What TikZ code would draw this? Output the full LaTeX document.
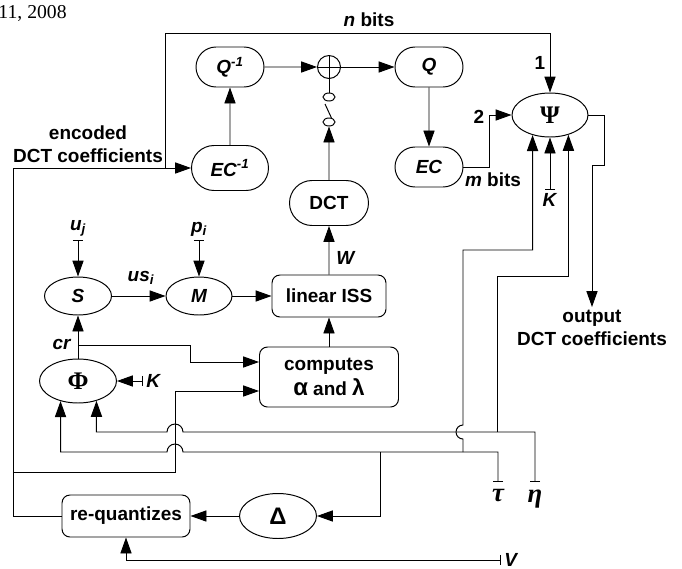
\documentclass[tikz,border=0pt]{standalone}
\usepackage{fontspec}
\setmainfont{Liberation Sans}
\newfontfamily\timesfont{Liberation Serif}
\newfontfamily\grk{Liberation Serif}
\usetikzlibrary{shapes.geometric,shapes.misc,arrows.meta}

\begin{document}
\begin{tikzpicture}[
        oval/.style={
            ellipse,
            draw,
            inner sep=0pt,
            minimum width=1.9cm,
            minimum height=1.1cm,
            font=\fontsize{13.5}{16}\selectfont\bfseries\itshape
        },
        pill/.style={
            rounded rectangle,
            draw,
            inner sep=0pt,
            minimum width=1.7cm,
            minimum height=1cm,
            font=\fontsize{13.5}{16}\selectfont\bfseries\itshape
        },
        block/.style={
            rectangle,
            draw,
            rounded corners=0.2cm,
            align=center,
            inner sep=0pt,
            minimum height=1.05cm,
            font=\fontsize{13.5}{16}\selectfont\bfseries
        },
        txt/.style={
            align=center,
            inner sep=2pt,
            font=\fontsize{13.5}{16}\selectfont\bfseries
        },
        contact/.style={ellipse, draw, inner sep=0pt, minimum width=0.3cm, minimum height=0.2cm},
        arrow/.style={-{Triangle[length=0.4cm,width=0.28cm]}},
        tee/.style={{Bar[width=0.26cm]}-{Triangle[length=0.4cm,width=0.28cm]}},
        line width=0.7pt
    ]

        \useasboundingbox (0,0) rectangle (17.05,-14.225);

        \node[anchor=base west, inner sep=0pt, font=\timesfont\fontsize{14}{16}\selectfont] (date) at (-0.05,-0.45) {11, 2008};

        \node[pill] (qinv) at (5.75,-1.675) {Q\textsuperscript{-1}};
        \node[pill, minimum width=1.925cm, minimum height=1.125cm] (ecinv) at (5.75,-4.2) {EC\textsuperscript{-1}};
        \node[circle, draw, inner sep=0pt, minimum size=0.575cm] (sum) at (8.225,-1.675) {};
        \node[pill] (q) at (10.725,-1.675) {Q};
        \node[pill] (ec) at (10.725,-4.175) {EC};
        \node[oval] (psi) at (13.75,-2.875) {\grk\upshape\fontsize{18}{18}\selectfont Ψ};
        \node[contact] (sw1) at (8.225,-2.425) {};
        \node[contact] (sw2) at (8.225,-3.05) {};
        \node[pill, minimum width=1.975cm, minimum height=1.125cm, font=\fontsize{13.5}{16}\selectfont\bfseries] (dct) at (8.225,-5.075) {DCT};
        \node[block, minimum width=2.85cm] (iss) at (8.225,-7.4) {linear ISS};
        \node[block, minimum width=3.475cm, minimum height=1.5cm] (comp) at (8.225,-9.425) {computes\\[2pt]{\fontsize{17}{17}\selectfont α} and {\fontsize{16}{16}\selectfont λ}};
        \node[oval, minimum width=1.675cm, minimum height=0.95cm] (s) at (1.95,-7.4) {S};
        \node[oval, minimum width=1.65cm, minimum height=0.95cm] (m) at (4.975,-7.4) {M};
        \node[oval, minimum width=1.925cm] (phi) at (1.95,-9.525) {\grk\upshape\fontsize{18}{18}\selectfont Φ};
        \node[oval, minimum width=1.925cm, minimum height=1.125cm] (delta) at (6.95,-12.9) {\upshape\fontsize{17}{17}\selectfont Δ};
        \node[block, minimum width=3.2cm] (req) at (3.15,-12.9) {re-quantizes};

        % labels and outside inputs
        \node[txt] (nbits) at (9.225,-0.5) {\textit{n} bits};
        \node[txt] (in1) at (13.5,-1.575) {1};
        \node[txt] (in2) at (11.975,-2.925) {2};
        \node[txt] (mbits) at (12.325,-4.5) {\textit{m} bits};
        \node[txt] (enc) at (2.2,-3.6) {encoded\\DCT coefficients};
        \node[txt] (w) at (8.65,-6.45) {\textit{W}};
        \node[txt] (usi) at (3.525,-6.95) {\textit{us\textsubscript{i}}};
        \node[txt] (cr) at (1.55,-8.6) {\textit{cr}};
        \node[txt, anchor=south] (uj) at (1.95,-6.0) {\textit{u\textsubscript{j}}};
        \node[txt, anchor=south] (pi) at (4.975,-6.0) {\textit{p\textsubscript{i}}};
        \node[txt, anchor=west] (kphi) at (3.575,-9.525) {\textit{K}};
        \node[txt, anchor=north] (kpsi) at (13.75,-4.75) {\textit{K}};
        \node[txt, anchor=north] (out) at (14.8,-7.675) {output\\DCT coefficients};
        \node[anchor=north, inner sep=5pt, font=\grk\fontsize{19}{19}\selectfont\bfseries\itshape] (tau) at (12.45,-12.05) {τ};
        \node[anchor=north, inner sep=5pt, font=\grk\fontsize{19}{19}\selectfont\bfseries\itshape] (eta) at (13.375,-12.05) {η};
        \node[txt, anchor=west] (v) at (12.525,-14.0) {\textit{V}};

        % junctions
        \coordinate (busl) at (0.325,-4.2);
        \coordinate (busj) at (0.325,-11.8);
        \coordinate (topj) at (4.125,-4.2);
        \coordinate (crj) at (1.95,-8.625);
        \coordinate (tauj) at (11.575,-11.3);
        \coordinate (etaj) at (12.425,-10.8);
        \coordinate (delj) at (9.5,-11.3);

        \draw[arrow] (req.west) -| (busl) -- (ecinv.west);
        \draw[arrow] (topj) -- (4.125,-0.825) -| (psi.north);
        \draw[arrow] (busj) -- (4.375,-11.8) |- ([yshift=-0.35cm]comp.west);
        \draw[arrow] (ecinv) -- (qinv);
        \draw[arrow] (qinv) -- (sum);
        \draw[arrow] (sum) -- (q);
        \draw[arrow] (q) -- (ec);
        \draw[arrow] (ec.east) -- (12.225,-4.175) |- (psi.west);
        \draw (sum.north) -- (sum.south) (sum.west) -- (sum.east);
        \draw (sum) -- (sw1);
        \draw (sw2.60) -- (8.125,-2.6);
        \draw[arrow] (dct) -- (sw2);
        \draw[arrow] (iss) -- (dct);
        \draw[arrow] (comp) -- (iss);
        \draw[arrow] (m) -- (iss);
        \draw[arrow] (s) -- (m);
        \draw[tee] (uj.south) -- (s);
        \draw[tee] (pi.south) -- (m);
        \draw[arrow] (phi) -- (s);
        \draw[arrow] (crj) -- (4.75,-8.625) |- ([yshift=0.375cm]comp.west);
        \draw[tee] (kphi.west) -- (phi);
        \draw[tee] (kpsi.north) -- (psi);
        \draw[arrow] (psi.east) -- (15.1,-2.875) |- (14.8,-4.125) -- (out.north);
        \draw[tee] (eta.north) |- (4.575,-10.8) arc[start angle=0, end angle=180, radius=0.2] -| (phi.313);
        \draw[tee] (tau.north) |- (4.575,-11.3) arc[start angle=0, end angle=180, radius=0.2] -| (phi.229);
        \draw[arrow] (tauj) -- (11.575,-10.975) arc[start angle=270, end angle=90, radius=0.175] -- (11.575,-6.25) -| (psi.229);
        \draw[arrow] (etaj) -- (12.425,-6.9) -| (psi.313);
        \draw[arrow] (delj) |- (delta.east);
        \draw[arrow] (delta) -- (req);
        \draw[tee] (v.west) -| (req.south);

    \end{tikzpicture}
\end{document}
